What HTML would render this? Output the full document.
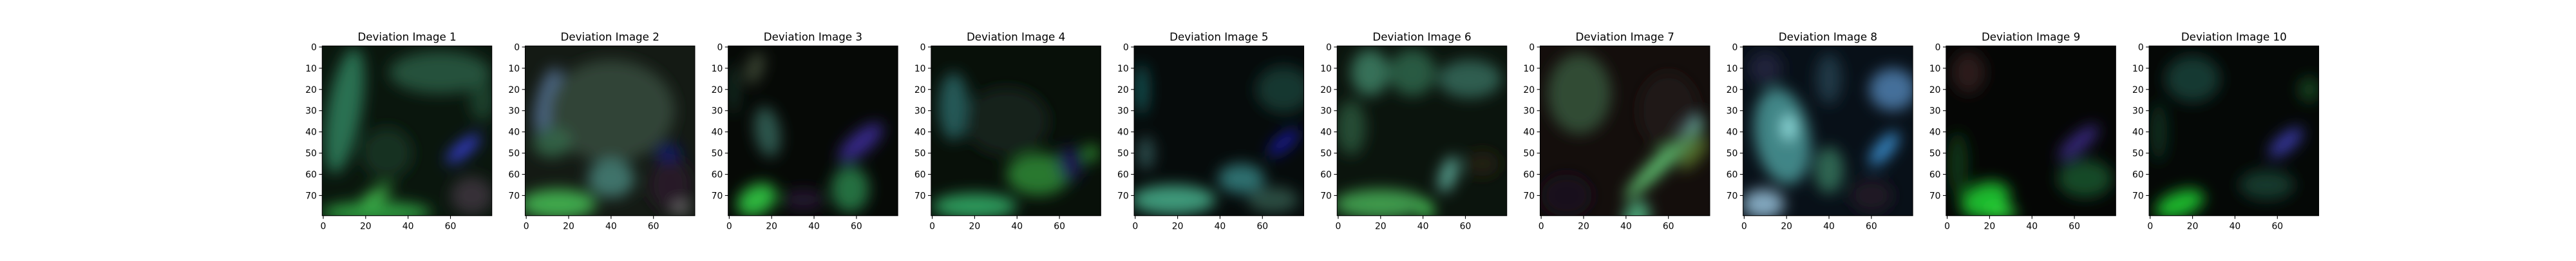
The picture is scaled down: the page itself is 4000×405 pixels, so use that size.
<!DOCTYPE html>
<html><head><meta charset="utf-8">
<style>
html,body{margin:0;padding:0;background:#fff;}
body{width:4000px;height:400px;overflow:hidden;}
svg text{font-family:"DejaVu Sans","Liberation Sans",sans-serif;fill:#000;}
</style></head>
<body>
<svg id="fig" width="4000" height="400" viewBox="0 0 4000 400" xmlns="http://www.w3.org/2000/svg">
<defs>
<filter id="blur" x="-50%" y="-50%" width="200%" height="200%"><feGaussianBlur stdDeviation="3.4"/></filter>
</defs>
</svg>
<script>
const titles = ["Deviation Image 1","Deviation Image 2","Deviation Image 3","Deviation Image 4","Deviation Image 5","Deviation Image 6","Deviation Image 7","Deviation Image 8","Deviation Image 9","Deviation Image 10"];
const yTicks = [0,10,20,30,40,50,60,70];
const xTicks = [0,20,40,60];
const backgrounds = ["#0a160d","#141a14","#060906","#081009","#060b0b","#0b140d","#140e0c","#081018","#050605","#050806"];
// blobs in image coordinates: [cx, cy, rx, ry, angleDeg, color, opacity]
const blobs1 = [[10,30,8,30,10,"#2f7a5a",0.9],[55,12,24,10,0,"#2a6048",0.8],[25,78,26,5,0,"#30a040",0.95],[25,70,8,3,-30,"#45c050",0.9],[66,48,3,10,50,"#3a40e0",0.95],[70,70,10,9,0,"#4a3a4a",0.7],[30,50,12,12,0,"#1a3a24",0.8],[75,25,6,10,0,"#2a5a40",0.6]];
const blobs2 = [[10,25,5,16,15,"#5a7aa0",0.8],[40,30,30,24,0,"#34483a",0.9],[15,74,18,7,0,"#40b050",0.95],[40,62,11,9,0,"#4a8a80",0.8],[68,65,10,12,0,"#2a1a2a",0.8],[67,50,6,4,0,"#101a70",0.9],[12,45,9,7,0,"#3a7050",0.8],[73,76,4,3,0,"#908a90",0.7]];
const blobs3 = [[18,40,6,12,-10,"#3a6a60",0.8],[12,10,4,8,20,"#5a6a50",0.6],[13,72,10,7,-30,"#30c040",0.95],[62,45,13,5,-40,"#4030a0",0.85],[57,67,9,11,0,"#2a8a50",0.8],[35,72,10,5,0,"#301840",0.7],[2,20,2,12,0,"#2a5a4a",0.6]];
const blobs4 = [[10,28,7,16,0,"#2a6a6a",0.8],[20,75,20,6,0,"#30a060",0.95],[50,60,15,10,0,"#2f8a35",0.85],[65,55,6,8,0,"#201860",0.8],[75,50,3,4,0,"#40c040",0.8],[35,35,20,16,0,"#1a2a24",0.7]];
const blobs5 = [[3,20,3,12,0,"#1a6a6a",0.8],[18,72,20,7,0,"#40a080",0.95],[50,62,11,7,0,"#3a8a8a",0.8],[70,45,3,9,50,"#2020b0",0.9],[70,20,13,11,0,"#1a4a40",0.7],[65,72,12,6,0,"#3a6a5a",0.7],[5,50,4,8,0,"#3a6a6a",0.7]];
const blobs6 = [[15,12,9,11,0,"#3a7a60",0.9],[35,12,11,11,0,"#2f6a50",0.8],[62,15,15,9,0,"#3a7060",0.8],[6,38,7,13,0,"#2a5a40",0.8],[20,74,22,7,0,"#40a050",0.95],[52,60,4,9,20,"#60b0a0",0.85],[42,77,3,4,0,"#50e060",0.9],[68,55,8,6,0,"#302a18",0.6]];
const blobs7 = [[18,22,15,19,0,"#3a5a40",0.8],[58,53,4,26,45,"#60c070",0.95],[70,38,3,7,45,"#90e0f0",0.9],[45,80,6,8,20,"#50b080",0.9],[12,70,12,10,0,"#1a1020",0.8],[60,30,14,18,0,"#2a1e1e",0.6],[72,50,4,10,40,"#6a8a30",0.7]];
const blobs8 = [[18,42,13,23,-10,"#4a9a9a",0.85],[21,38,3,6,0,"#a0f0f0",0.9],[9,74,10,7,0,"#90b8d0",0.9],[70,20,11,10,0,"#5080b0",0.85],[66,48,4,10,40,"#3a90d0",0.9],[40,58,7,11,0,"#3a7a60",0.8],[10,10,8,8,0,"#2a2a4a",0.7],[40,15,6,12,0,"#2a4a5a",0.7],[60,70,10,8,0,"#2a1a2a",0.7]];
const blobs9 = [[18,72,12,8,-20,"#20c030",0.95],[62,45,12,4,-40,"#403090",0.85],[65,62,13,9,0,"#1a5a30",0.8],[10,12,8,10,0,"#3a2424",0.7],[5,55,5,15,0,"#14401a",0.8],[25,78,8,3,0,"#30f040",0.9]];
const blobs10 = [[14,74,12,6,-20,"#20c030",0.95],[64,45,10,4,-40,"#4040b8",0.85],[20,15,13,11,0,"#1a4a40",0.75],[75,20,5,6,0,"#1a5a2a",0.7],[55,65,13,7,0,"#1a4a3a",0.75],[4,40,4,14,0,"#14402a",0.7]];
const allBlobs = [blobs1,blobs2,blobs3,blobs4,blobs5,blobs6,blobs7,blobs8,blobs9,blobs10];

const NS = "http://www.w3.org/2000/svg";
const svg = document.getElementById("fig");
const L0 = 500.3, STEP = 315.2, TOP = 71.3, SIZE = 263.4, N = 80;
const sc = SIZE / N;
function mk(tag, attrs, parent){const e=document.createElementNS(NS,tag);for(const k in attrs)e.setAttribute(k,attrs[k]);parent.appendChild(e);return e;}

titles.forEach((t,i)=>{
  const left = L0 + i*STEP;
  const xs = v => left + (v+0.5)*sc;
  const ys = v => TOP + (v+0.5)*sc;
  const g = mk("g",{},svg);
  
  
  const title = mk("text",{x:left+SIZE/2,y:63,"text-anchor":"middle","font-size":"16.7"},g);
  title.textContent = t;
  
  
  const img = mk("svg",{x:left,y:TOP,width:SIZE,height:SIZE,viewBox:"-0.5 -0.5 80 80",preserveAspectRatio:"none",overflow:"hidden"},g);
  
  
  mk("rect",{x:-0.5,y:-0.5,width:80,height:80,fill:backgrounds[i]},img);
  const bg = mk("g",{filter:"url(#blur)"},img);
  allBlobs[i].forEach(b=>{
    const el = mk("ellipse",{cx:b[0],cy:b[1],rx:b[2],ry:b[3],transform:`rotate(${b[4]} ${b[0]} ${b[1]})`,fill:b[5],"fill-opacity":b[6]},bg);
    
    
  });
  const frame = mk("rect",{x:left,y:TOP,width:SIZE,height:SIZE,fill:"none",stroke:"#000","stroke-width":1.1},g);
  
  
  yTicks.forEach(v=>{
    const y = ys(v);
    const tk = mk("line",{x1:left,x2:left-4.9,y1:y,y2:y,stroke:"#000","stroke-width":1.1},g);
    
    
    const lb = mk("text",{x:left-8.4,y:y+5,"text-anchor":"end","font-size":"13.9"},g);
    lb.textContent = v;
    
    
  });
  xTicks.forEach(v=>{
    const x = xs(v), b = TOP+SIZE;
    const tk = mk("line",{x1:x,x2:x,y1:b,y2:b+4.9,stroke:"#000","stroke-width":1.1},g);
    
    
    const lb = mk("text",{x:x,y:b+21,"text-anchor":"middle","font-size":"13.9"},g);
    lb.textContent = v;
    
    
  });
});
</script>
</body></html>
